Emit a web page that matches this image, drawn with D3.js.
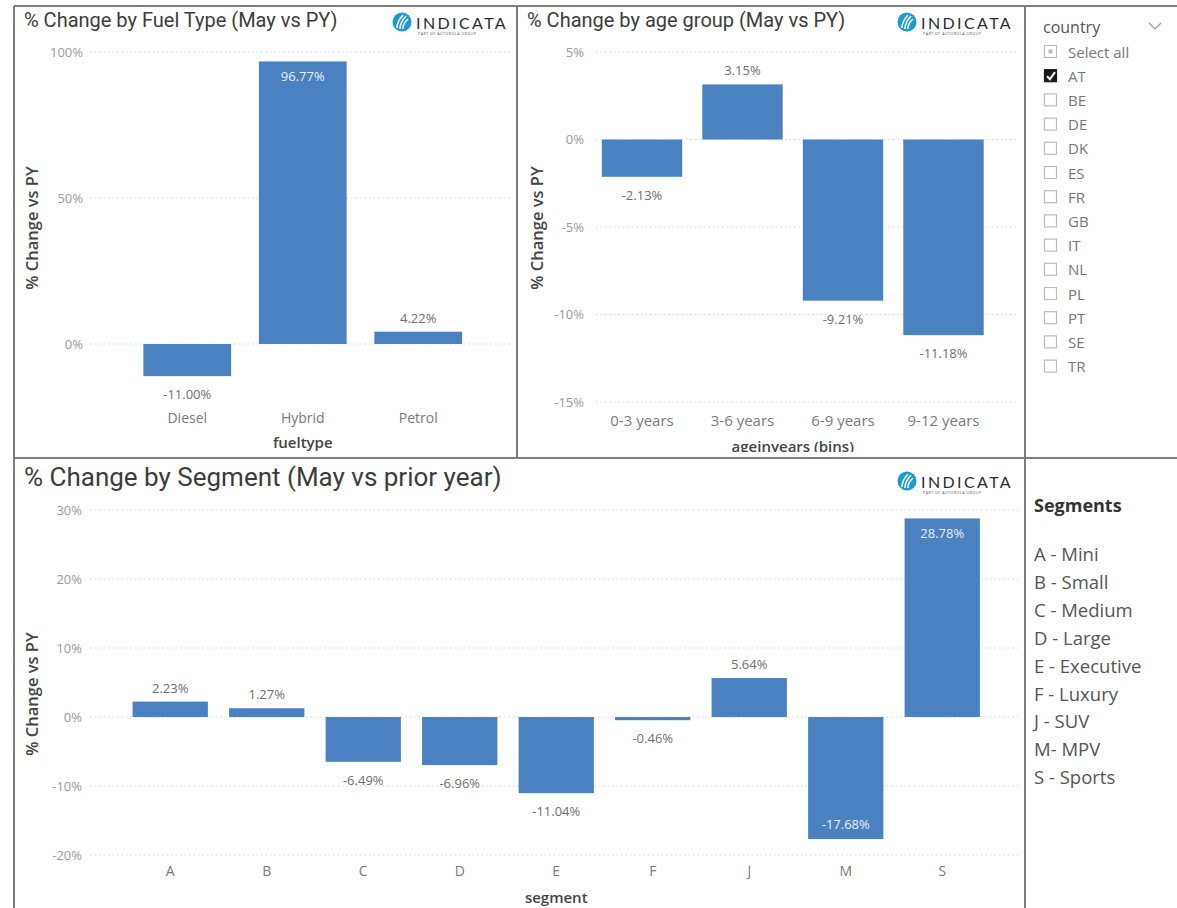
<!DOCTYPE html>
<html><head><meta charset="utf-8">
<script src="https://cdn.jsdelivr.net/npm/d3@7"></script>
<style>
body{margin:0;background:#fff;}
svg{display:block;font-family:"Open Sans",sans-serif;}
</style></head>
<body><svg id="c" width="1177" height="908"></svg>
<script>
// ---- data ----
const fuelCategories = ["Diesel","Hybrid","Petrol"];
const fuelValues = [-11.00, 96.77, 4.22];
const fuelTicks = [0, 50, 100];

const ageCategories = ["0-3 years","3-6 years","6-9 years","9-12 years"];
const ageValues = [-2.13, 3.15, -9.21, -11.18];
const ageTicks = [-15, -10, -5, 0, 5];

const segCategories = ["A","B","C","D","E","F","J","M","S"];
const segValues = [2.23, 1.27, -6.49, -6.96, -11.04, -0.46, 5.64, -17.68, 28.78];
const segTicks = [-20, -10, 0, 10, 20, 30];

const countries = ["AT","BE","DE","DK","ES","FR","GB","IT","NL","PL","PT","SE","TR"];
const selectedCountries = ["AT"];
const segmentLegend = ["A - Mini","B - Small","C - Medium","D - Large","E - Executive","F - Luxury","J - SUV","M- MPV","S - Sports"];

const BAR = "#4A81C1";
const svg = d3.select("#c");

function logo(x, y){
  const g = svg.append("g").attr("transform",`translate(${x},${y})`);
  g.append("circle").attr("cx",0).attr("cy",0).attr("r",9.5).attr("fill","#1b9ad6");
  [[-5,6,1,-7],[-2,7,4,-6],[1,7,6,-3]].forEach(d=>{
    g.append("path").attr("d",`M${d[0]},${d[1]} Q${(d[0]+d[2])/2-3},${(d[1]+d[3])/2} ${d[2]},${d[3]}`)
     .attr("stroke","#fff").attr("stroke-width",1.6).attr("fill","none");
  });
  g.append("text").attr("x",14).attr("y",7).attr("font-size",16).attr("letter-spacing",2.4)
   .attr("fill","#2b2b35").attr("font-family","Lato, sans-serif").text("INDICATA");
  g.append("text").attr("x",16).attr("y",13).attr("font-size",3.6).attr("letter-spacing",0.5)
   .attr("fill","#555").text("PART OF AUTOROLA GROUP");
}

function barChart(o){
  const g = svg.append("g");
  const y = d3.scaleLinear().domain(o.domain).range(o.yRange);
  const x = d3.scaleBand().domain(o.cats).range(o.xRange).paddingInner(o.pad).paddingOuter(o.pad/2);
  // gridlines + ticks
  const ax = d3.axisLeft(y).tickValues(o.ticks).tickFormat(d=>d+"%").tickSize(0).tickPadding(0);
  const ag = g.append("g").attr("transform",`translate(${o.tickX},0)`).call(ax);
  ag.select(".domain").remove();
  ag.selectAll("text").attr("fill","#9a9a9a").attr("font-size",o.tickFs).attr("font-family","Open Sans, sans-serif");
  g.append("g").selectAll("line").data(o.ticks).join("line")
    .attr("x1",o.gridX[0]).attr("x2",o.gridX[1]).attr("y1",d=>y(d)).attr("y2",d=>y(d))
    .attr("stroke","#d4d4d4").attr("stroke-width",1).attr("stroke-dasharray","1.5,3");
  // bars
  g.append("g").selectAll("rect").data(o.vals).join("rect")
    .attr("x",(d,i)=>x(o.cats[i])).attr("width",x.bandwidth())
    .attr("y",d=>y(Math.max(0,d))).attr("height",d=>Math.abs(y(d)-y(0)))
    .attr("fill",BAR);
  // labels
  g.append("g").selectAll("text").data(o.vals).join("text")
    .attr("x",(d,i)=>x(o.cats[i])+x.bandwidth()/2)
    .attr("y",(d,i)=>{
      const inside = o.inside.includes(i);
      if(d>=0) return inside ? y(d)+20 : y(d)-9;
      return inside ? y(d)-10 : y(d)+23;
    })
    .attr("text-anchor","middle").attr("font-size",o.lblFs)
    .attr("fill",(d,i)=>o.inside.includes(i)?"#e8f0fb":"#6e6e6e")
    .text(d=>d.toFixed(2)+"%");
  // categories
  const xa = d3.axisBottom(x).tickSize(0).tickPadding(0);
  const xg = g.append("g").attr("transform",`translate(0,${o.catY})`).call(xa);
  xg.select(".domain").remove();
  xg.selectAll("text").attr("fill","#7a7a7a").attr("font-size",o.catFs).attr("dy","0").attr("font-family","Open Sans, sans-serif");
  // axis titles
  g.append("text").attr("x",d3.mean(o.xRange)).attr("y",o.xTitleY).attr("text-anchor","middle")
   .attr("font-size",15).attr("fill","#444").attr("font-weight",600).attr("clip-path",o.clip||null).text(o.xTitle);
  g.append("text").attr("transform",`translate(${o.yTitleX},${o.yTitleC}) rotate(-90)`).attr("text-anchor","middle")
   .attr("font-size",o.yTitleFs).attr("fill","#444").attr("font-weight",600).text("% Change vs PY");
  // title
  g.append("text").attr("x",o.titleX).attr("y",o.titleY).attr("font-size",o.titleFs).attr("fill","#3c3c3c")
   .attr("font-family","Roboto, sans-serif").text(o.title);
}

// clip for bottom of age chart
svg.append("defs").append("clipPath").attr("id","clipAge").append("rect").attr("x",517).attr("y",0).attr("width",508).attr("height",452);

barChart({cats:fuelCategories, vals:fuelValues, domain:[0,100], yRange:[344,52], ticks:fuelTicks,
  xRange:[129.5,476], pad:0.24, tickX:83, gridX:[90,510], tickFs:13, lblFs:13, catFs:14, catY:423,
  inside:[1], xTitle:"fueltype", xTitleY:448, yTitleX:38, yTitleC:228, yTitleFs:16.5,
  title:"% Change by Fuel Type (May vs PY)", titleX:24, titleY:27, titleFs:20});

barChart({cats:ageCategories, vals:ageValues, domain:[0,5], yRange:[139.5,52], ticks:ageTicks,
  xRange:[591.75,993.75], pad:0.2, tickX:584, gridX:[596,1018], tickFs:13, lblFs:13, catFs:15, catY:426,
  inside:[], xTitle:"ageinyears (bins)", xTitleY:452, yTitleX:543, yTitleC:228, yTitleFs:16.5, clip:"url(#clipAge)",
  title:"% Change by age group (May vs PY)", titleX:527, titleY:27, titleFs:20});

barChart({cats:segCategories, vals:segValues, domain:[0,10], yRange:[717,648], ticks:segTicks,
  xRange:[122,990.5], pad:0.22, tickX:82, gridX:[90,1020], tickFs:13, lblFs:13, catFs:14, catY:876,
  inside:[7,8], xTitle:"segment", xTitleY:903, yTitleX:38, yTitleC:694, yTitleFs:16.5,
  title:"% Change by Segment (May vs prior year)", titleX:24, titleY:486, titleFs:26});

logo(402,22); logo(907,22); logo(907,481);

// panel borders
const B = "#7d7d7d";
[[14,6,1177,6],[14,6,14,908],[517,6,517,458],[1025,6,1025,908],[14,458,1177,458]].forEach(l=>{
  svg.append("line").attr("x1",l[0]).attr("y1",l[1]).attr("x2",l[2]).attr("y2",l[3])
    .attr("stroke",B).attr("stroke-width",2);
});

// slicer
const sl = svg.append("g");
sl.append("text").attr("x",1043).attr("y",33).attr("font-size",16).attr("fill","#555").text("country");
sl.append("path").attr("d","M1149,23 L1155,29 L1161,23").attr("stroke","#999").attr("fill","none").attr("stroke-width",1.2);
const items = ["Select all"].concat(countries);
items.forEach((c,i)=>{
  const yy = 52 + i*24.2;
  const sel = selectedCountries.includes(c);
  sl.append("rect").attr("x",1044.5).attr("y",yy-6.5).attr("width",12).attr("height",12)
    .attr("fill",sel?"#1a1a1a":"#fff").attr("stroke",sel?"#1a1a1a":"#bdbdbd").attr("stroke-width",1.2);
  if(i===0) sl.append("rect").attr("x",1048.5).attr("y",yy-2.5).attr("width",4).attr("height",4).attr("fill","#bbb");
  if(sel) sl.append("path").attr("d",`M${1047},${yy} L${1050},${yy+3} L${1055},${yy-4}`).attr("stroke","#fff").attr("stroke-width",2).attr("fill","none");
  sl.append("text").attr("x",1068).attr("y",yy+5.5).attr("font-size",15).attr("fill","#777").text(c);
});

// segments legend
const lg = svg.append("g");
lg.append("text").attr("x",1034).attr("y",512).attr("font-size",18).attr("font-weight",700).attr("fill","#333").text("Segments");
lg.selectAll("text.it").data(segmentLegend).join("text").attr("class","it")
  .attr("x",1034).attr("y",(d,i)=>561+i*27.9).attr("font-size",18.5).attr("fill","#555").text(d=>d);
</script></body></html>
